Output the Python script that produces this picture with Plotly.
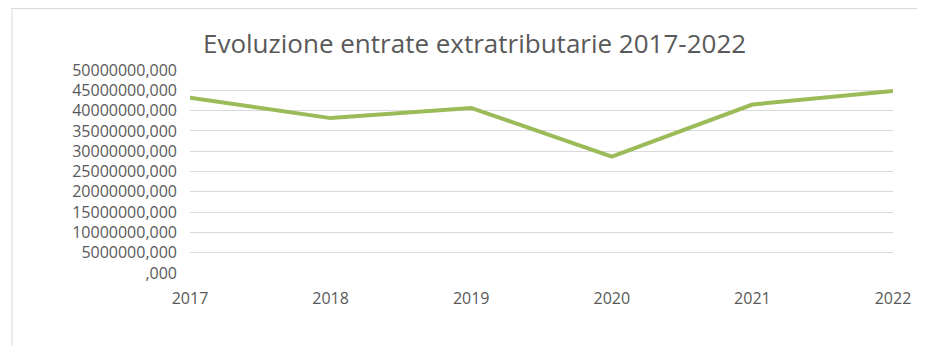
import plotly.graph_objects as go

years = [2017, 2018, 2019, 2020, 2021, 2022]
values = [43200000, 38150000, 40650000, 28650000, 41500000, 44850000]
y_tickvals = [0, 5000000, 10000000, 15000000, 20000000, 25000000,
              30000000, 35000000, 40000000, 45000000, 50000000]
y_ticktext = [",000", "5000000,000", "10000000,000", "15000000,000", "20000000,000",
              "25000000,000", "30000000,000", "35000000,000", "40000000,000",
              "45000000,000", "50000000,000"]
title = "Evoluzione entrate extratributarie 2017-2022"

W, H = 915, 338
L, R, T, B = 182, 24, 62, 73
pw, ph = W - L - R, H - T - B

def px2x(px):
    return (px - L) / pw

def px2y(py):
    return (H - B - py) / ph

fig = go.Figure()
fig.add_trace(go.Scatter(
    x=years, y=values, mode="lines",
    line=dict(color="#9BBB59", width=4),
    cliponaxis=False, hoverinfo="skip"))

font_fam = "Open Sans, Liberation Sans, sans-serif"
fig.update_layout(
    width=W, height=H,
    margin=dict(l=L, r=R, t=T, b=B),
    paper_bgcolor="white", plot_bgcolor="white",
    showlegend=False,
    title=dict(text=title, x=px2x(469), xref="paper", xanchor="center",
               y=1 - 36 / H, yref="container", yanchor="middle",
               font=dict(family=font_fam, size=26, color="#595959")),
    xaxis=dict(range=[2017, 2022], tickvals=years, ticktext=[str(y) for y in years],
               showgrid=False, zeroline=False, showline=False, ticks="",
               ticklabelstandoff=14,
               tickfont=dict(family=font_fam, size=16, color="#595959")),
    yaxis=dict(range=[0, 50000000], tickvals=y_tickvals, ticktext=y_ticktext,
               showgrid=True, gridcolor="#D9D9D9", gridwidth=1,
               zeroline=False, showline=False, ticks="",
               ticklabelstandoff=12,
               tickfont=dict(family=font_fam, size=16, color="#595959")),
    shapes=[
        dict(type="line", xref="paper", yref="paper",
             x0=px2x(2.5), x1=px2x(2.5), y0=px2y(0), y1=px2y(345),
             line=dict(color="#D9D9D9", width=1)),
        dict(type="line", xref="paper", yref="paper",
             x0=px2x(2.5), x1=px2x(920), y0=px2y(0.5), y1=px2y(0.5),
             line=dict(color="#D9D9D9", width=1)),
    ],
)

fig.write_html("out.html")
